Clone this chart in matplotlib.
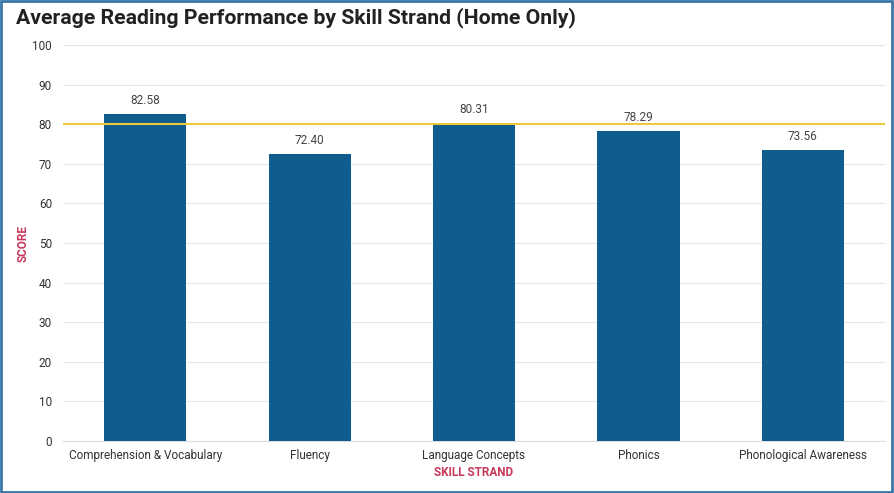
import matplotlib
matplotlib.use("Agg")
import matplotlib.pyplot as plt
from matplotlib import font_manager
from matplotlib.patches import Rectangle

categories = ["Comprehension & Vocabulary", "Fluency", "Language Concepts", "Phonics", "Phonological Awareness"]
scores = [82.58, 72.40, 80.31, 78.29, 73.56]
target = 80
yticks = [0, 10, 20, 30, 40, 50, 60, 70, 80, 90, 100]

names = {f.name for f in font_manager.fontManager.ttflist}
fam = "Liberation Sans Narrow" if "Liberation Sans Narrow" in names else "Roboto"
plt.rcParams['font.family'] = [fam, 'DejaVu Sans']

fig = plt.figure(figsize=(8.94, 4.93), dpi=100)
ax = fig.add_axes([63/894, 1-441/493, (885-63)/894, (441-45)/493])

x = list(range(len(categories)))
ax.bar(x, scores, width=0.5, color="#0F5C8E", zorder=3)
for xi, v in zip(x, scores):
    ax.text(xi, v + 1.8, f"{v:.2f}", ha="center", va="bottom", fontsize=8.5, color="#444444", zorder=4)
ax.axhline(target, color="#EBC93A", lw=1.5, zorder=4)

ax.set_xlim(-0.5, len(categories) - 0.5)
ax.set_ylim(0, 100)
ax.set_yticks(yticks)
ax.set_xticks(x)
ax.set_xticklabels(categories, fontsize=8.5, color="#333333")
ax.tick_params(axis="y", labelsize=8.5, colors="#333333", length=0, pad=8)
ax.tick_params(axis="x", length=0, pad=6)
ax.grid(axis="y", color="#E6E6E6", lw=0.8, zorder=0)
for s in ["top", "right", "left"]:
    ax.spines[s].set_visible(False)
ax.spines["bottom"].set_color("#DDDDDD")
ax.set_ylabel("SCORE", fontsize=8.5, color="#C8385A", fontweight="bold")
ax.yaxis.set_label_coords((30 - 63) / 822, 0.5)
ax.set_xlabel("SKILL STRAND", fontsize=8.5, color="#C8385A", fontweight="bold", labelpad=3)

fig.text(16/894, 1-18/493, "Average Reading Performance by Skill Strand (Home Only)",
         fontsize=15.3, fontweight="bold", color="#222222", ha="left", va="center")

fig.patches.append(Rectangle((0.001, 0.002), 0.997, 0.996, transform=fig.transFigure,
                             fill=False, edgecolor="#3A76A6", lw=2))

fig.savefig("out.png", dpi=100)
